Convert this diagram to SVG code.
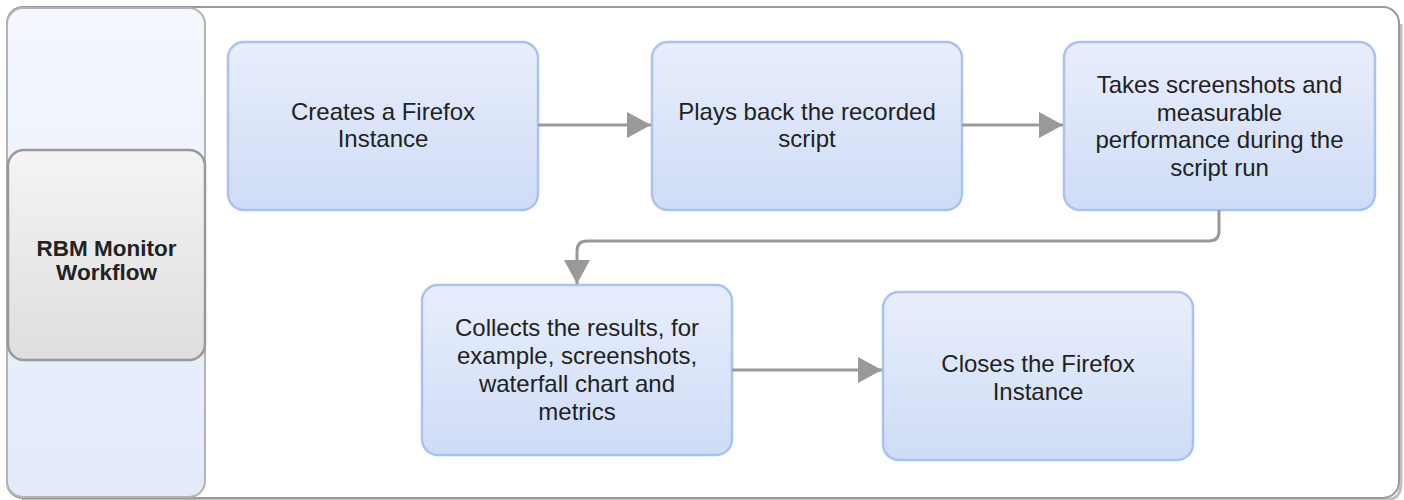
<svg xmlns="http://www.w3.org/2000/svg" width="1404" height="500" viewBox="0 0 1404 500">
  <defs>
    <linearGradient id="laneFill" x1="0" y1="0" x2="0" y2="1">
      <stop offset="0" stop-color="#f4f7fd"/>
      <stop offset="1" stop-color="#e3eaf9"/>
    </linearGradient>
    <linearGradient id="headFill" x1="0" y1="0" x2="0" y2="1">
      <stop offset="0" stop-color="#f4f4f4"/>
      <stop offset="1" stop-color="#dedede"/>
    </linearGradient>
    <linearGradient id="stepFill" x1="0" y1="0" x2="0" y2="1">
      <stop offset="0" stop-color="#e8eefc"/>
      <stop offset="1" stop-color="#cfdcf6"/>
    </linearGradient>
    <marker id="arrow" viewBox="0 0 24 26" refX="24" refY="13" markerWidth="24" markerHeight="26" markerUnits="userSpaceOnUse" orient="auto">
      <path d="M0,0 L24,13 L0,26 Z" fill="#999999"/>
    </marker>
  </defs>
  <style>
    .frame { fill: #ffffff; stroke: #9a9a9a; stroke-width: 2; }
    .shadow { fill: none; stroke: #8c8c8c; stroke-width: 3; opacity: 0.55; }
    .lane { fill: url(#laneFill); stroke: #b4b4b4; stroke-width: 2; }
    .head { fill: url(#headFill); stroke: #999999; stroke-width: 2.5; }
    .step { fill: url(#stepFill); stroke: #a8c3f3; stroke-width: 2.5; }
    .label { font-family: "Liberation Sans", Arial, sans-serif; font-size: 24px; fill: #222222; text-anchor: middle; }
    .title { font-family: "Liberation Sans", Arial, sans-serif; font-size: 22.5px; font-weight: bold; fill: #222222; text-anchor: middle; }
    .link { fill: none; stroke: #999999; stroke-width: 3; }
  </style>

  <!-- pool frame with a soft right/bottom shadow -->
  <g id="pool">
    <path class="shadow" d="M1401,24 V484 Q1401,500 1385,500 H22"/>
    <rect class="frame" x="7" y="7" width="1392" height="491" rx="16" ry="16"/>
  </g>

  <!-- swimlane column -->
  <g id="lane">
    <rect class="lane" x="7" y="8" width="198" height="489" rx="16" ry="16"/>
  </g>

  <g id="lane-header">
    <rect class="head" x="8" y="150" width="197" height="210" rx="16" ry="16"/>
    <text class="title" x="106.5" y="256">RBM Monitor</text>
    <text class="title" x="106.5" y="280">Workflow</text>
  </g>

  <!-- workflow steps -->
  <g id="step-create">
    <rect class="step" x="228" y="42" width="310" height="168" rx="16" ry="16"/>
    <text class="label" x="383" y="120">Creates a Firefox</text>
    <text class="label" x="383" y="147">Instance</text>
  </g>

  <g id="step-playback">
    <rect class="step" x="652" y="42" width="310" height="168" rx="16" ry="16"/>
    <text class="label" x="807" y="120">Plays back the recorded</text>
    <text class="label" x="807" y="147">script</text>
  </g>

  <g id="step-measure">
    <rect class="step" x="1064" y="42" width="311" height="168" rx="16" ry="16"/>
    <text class="label" x="1219.5" y="93">Takes screenshots and</text>
    <text class="label" x="1219.5" y="120.5">measurable</text>
    <text class="label" x="1219.5" y="148">performance during the</text>
    <text class="label" x="1219.5" y="175.5">script run</text>
  </g>

  <g id="step-collect">
    <rect class="step" x="422" y="285" width="310" height="170" rx="16" ry="16"/>
    <text class="label" x="577" y="336">Collects the results, for</text>
    <text class="label" x="577" y="364">example, screenshots,</text>
    <text class="label" x="577" y="392">waterfall chart and</text>
    <text class="label" x="577" y="420">metrics</text>
  </g>

  <g id="step-close">
    <rect class="step" x="883" y="292" width="310" height="168" rx="16" ry="16"/>
    <text class="label" x="1038" y="372">Closes the Firefox</text>
    <text class="label" x="1038" y="400">Instance</text>
  </g>

  <!-- connectors -->
  <g id="connectors">
    <path class="link" d="M538,125 H651" marker-end="url(#arrow)"/>
    <path class="link" d="M962,125 H1063" marker-end="url(#arrow)"/>
    <path class="link" d="M1219,210 V231 Q1219,241 1209,241 H587 Q577,241 577,251 V284" marker-end="url(#arrow)"/>
    <path class="link" d="M732,370 H882" marker-end="url(#arrow)"/>
  </g>
</svg>
